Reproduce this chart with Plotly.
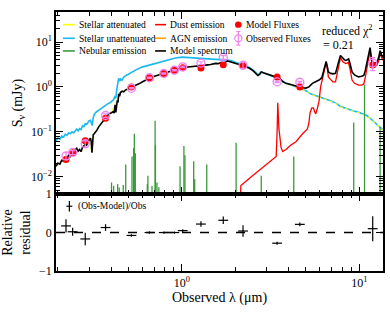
import math
import plotly.graph_objects as go

# ---------------- data ----------------
model_lam = [0.195, 0.200, 0.205, 0.210, 0.215, 0.220, 0.225, 0.230, 0.235, 0.240, 0.245, 0.250,
             0.255, 0.260, 0.265, 0.270, 0.275, 0.280, 0.285, 0.290, 0.295, 0.300, 0.305, 0.308,
             0.311, 0.313, 0.316, 0.320, 0.330, 0.340, 0.350, 0.360, 0.370, 0.380, 0.390, 0.400,
             0.410, 0.415, 0.420, 0.424, 0.428, 0.432, 0.436, 0.440, 0.445, 0.450, 0.460, 0.470,
             0.480, 0.490, 0.500, 0.520, 0.540, 0.560, 0.580, 0.600, 0.630, 0.660, 0.700, 0.740,
             0.780, 0.820, 0.860, 0.900, 0.950, 1.000, 1.050, 1.100, 1.150, 1.200, 1.250, 1.300,
             1.350, 1.400, 1.450, 1.500, 1.550, 1.600, 1.650, 1.700, 1.750, 1.800, 1.850, 1.900,
             2.000, 2.100, 2.200, 2.300, 2.400, 2.500, 2.600, 2.680, 2.740, 2.800, 2.900, 3.000,
             3.100, 3.200, 3.300, 3.400, 3.460, 3.520, 3.600, 3.700, 3.860, 4.000, 4.210, 4.400,
             4.620, 4.800, 5.000, 5.200, 5.440, 5.700, 5.930, 6.150, 6.320, 6.420, 6.500, 6.580,
             6.690, 6.900, 7.100, 7.340, 7.550, 7.700, 7.830, 7.950, 8.100, 8.250, 8.400, 8.550,
             8.700, 8.850, 9.100, 9.400, 9.900, 10.30, 10.60, 10.80, 11.00, 11.25, 11.50, 11.65,
             11.85, 12.10, 12.55, 12.85, 13.10, 13.35, 13.60]
model_flux = [0.017, 0.020, 0.019, 0.023, 0.022, 0.027, 0.026, 0.030, 0.028, 0.034, 0.031, 0.040,
              0.043, 0.037, 0.040, 0.036, 0.045, 0.048, 0.052, 0.050, 0.060, 0.066, 0.072, 0.060,
              0.034, 0.055, 0.085, 0.090, 0.105, 0.13, 0.15, 0.18, 0.21, 0.23, 0.25, 0.27,
              0.28, 0.26, 0.40, 0.27, 0.42, 0.50, 0.45, 0.70, 0.62, 0.75, 0.80, 0.78,
              0.85, 0.88, 0.92, 0.97, 1.05, 1.12, 1.20, 1.30, 1.45, 1.58, 1.72, 1.85,
              1.98, 2.10, 2.22, 2.33, 2.50, 2.66, 2.75, 2.80, 2.85, 2.90, 2.95, 2.90,
              3.05, 3.10, 3.15, 3.25, 3.35, 3.30, 3.50, 3.60, 3.50, 3.80, 3.70, 3.55,
              3.35, 3.15, 3.00, 2.80, 2.60, 2.35, 2.05, 1.80, 1.90, 2.15, 2.05, 1.95,
              1.85, 1.78, 1.72, 1.66, 1.75, 1.62, 1.45, 1.32, 1.20, 1.15, 1.10, 1.05,
              1.00, 0.96, 0.94, 1.00, 1.20, 1.30, 1.42, 1.60, 2.30, 3.00, 3.70, 3.00,
              2.15, 2.00, 1.95, 2.00, 2.80, 4.00, 5.00, 4.60, 4.20, 4.00, 3.90, 4.00,
              4.20, 3.40, 2.15, 1.85, 1.67, 1.72, 1.80, 2.30, 3.30, 5.00, 7.50, 5.00,
              3.50, 3.40, 3.50, 4.50, 6.40, 5.20, 4.50]

unatt_lam = [0.195, 0.200, 0.205, 0.210, 0.215, 0.220, 0.225, 0.230, 0.235, 0.240, 0.245, 0.250,
             0.255, 0.260, 0.265, 0.270, 0.275, 0.280, 0.285, 0.290, 0.295, 0.300, 0.305, 0.309,
             0.312, 0.316, 0.320, 0.327, 0.335, 0.345, 0.356, 0.365, 0.375, 0.385, 0.395, 0.405,
             0.412, 0.418, 0.424, 0.430, 0.436, 0.440, 0.446, 0.452, 0.460, 0.470, 0.485, 0.500,
             0.524, 0.550, 0.595, 0.650, 0.707, 0.770, 0.840, 0.920, 1.000, 1.100, 1.200, 1.300,
             1.400, 1.500, 1.600, 1.700, 1.800, 1.900, 2.000, 2.200, 2.400, 2.600, 2.680, 2.800,
             3.000, 3.200, 3.400, 3.600, 3.860, 4.210, 4.620, 5.000, 5.300, 5.800, 6.300, 6.800,
             7.340, 7.800, 8.300, 8.800, 9.300, 10.00, 10.60, 11.00, 11.50, 12.30, 13.10, 13.60]
unatt_flux = [0.062, 0.072, 0.068, 0.080, 0.076, 0.088, 0.084, 0.095, 0.090, 0.100, 0.094, 0.108,
              0.115, 0.105, 0.118, 0.112, 0.135, 0.130, 0.150, 0.145, 0.165, 0.176, 0.180, 0.150,
              0.137, 0.200, 0.240, 0.270, 0.290, 0.320, 0.340, 0.370, 0.400, 0.430, 0.450, 0.480,
              0.520, 0.600, 0.560, 0.940, 1.200, 1.550, 1.350, 1.500, 1.420, 1.650, 1.800, 1.950,
              2.150, 2.400, 2.760, 3.050, 3.300, 3.700, 4.100, 4.400, 4.600, 4.500, 4.300, 4.200,
              4.150, 4.100, 4.050, 4.000, 3.950, 3.800, 3.550, 3.100, 2.700, 2.150, 1.850, 2.150,
              1.950, 1.750, 1.600, 1.420, 1.200, 1.080, 0.950, 0.820, 0.700, 0.620, 0.570, 0.500,
              0.440, 0.370, 0.340, 0.310, 0.290, 0.270, 0.250, 0.230, 0.200, 0.160, 0.128, 0.110]

att_lam = [0.195, 0.22, 0.25, 0.27, 0.30, 0.311, 0.32, 0.35, 0.40, 0.42, 0.44, 0.50, 0.60, 0.70,
           0.80, 0.90, 1.0, 1.2, 1.4, 1.6, 1.8, 2.0, 2.2, 2.4, 2.6, 2.68, 2.8, 3.0, 3.2, 3.4,
           3.6, 3.86, 4.21, 4.62, 5.0, 5.3, 5.8, 6.3, 6.8, 7.34, 7.8, 8.3, 8.8, 9.3, 10.0, 10.6,
           11.0, 11.5, 12.3, 13.1, 13.6]
att_flux = [0.017, 0.027, 0.040, 0.036, 0.066, 0.034, 0.090, 0.15, 0.27, 0.40, 0.70, 0.92, 1.30, 1.72,
            2.05, 2.33, 2.66, 2.9, 3.1, 3.3, 3.8, 3.35, 3.0, 2.6, 2.05, 1.8, 2.15, 1.95, 1.78, 1.64,
            1.42, 1.19, 1.06, 0.93, 0.80, 0.69, 0.61, 0.56, 0.49, 0.43, 0.36, 0.335, 0.305, 0.285, 0.265, 0.245,
            0.225, 0.197, 0.158, 0.126, 0.108]

dust_lam = [2.14, 2.15, 2.5, 2.9, 3.2, 3.40, 3.44, 3.47, 3.52, 3.62, 3.70, 3.86, 4.10, 4.39, 4.79,
            5.10, 5.20, 5.28, 5.40, 5.51, 5.60, 5.68, 5.80, 5.93, 6.05, 6.20, 6.35, 6.50, 6.60,
            6.69, 6.90, 7.10, 7.34, 7.55, 7.70, 7.83, 7.95, 8.10, 8.40, 8.68, 8.85, 9.10, 9.40,
            9.90, 10.30, 10.60, 10.80, 11.00, 11.25, 11.50, 11.65, 11.85, 12.10, 12.55, 12.85,
            13.10, 13.35, 13.60]
dust_flux = [0.004, 0.0063, 0.0105, 0.017, 0.023, 0.028, 0.10, 0.44, 0.12, 0.045, 0.036, 0.040, 0.050,
             0.060, 0.090, 0.116, 0.16, 0.27, 0.34, 0.34, 0.28, 0.25, 0.33, 0.48, 1.0, 1.6, 2.5,
             3.5, 2.6, 1.67, 1.45, 1.3, 1.3, 2.2, 3.5, 4.5, 4.0, 3.6, 3.3, 3.5, 2.6, 1.42, 1.2,
             1.1, 1.1, 1.15, 1.6, 2.5, 4.2, 6.4, 4.3, 3.1, 2.9, 3.0, 3.8, 5.4, 4.6, 3.9]

neb_lam = [0.401, 0.412, 0.434, 0.443, 0.467, 0.482, 0.523, 0.534, 0.539, 0.546, 0.638, 0.643,
           0.678, 0.706, 0.709, 0.723, 0.741, 0.976, 1.026, 1.04, 1.165, 1.18, 1.38, 2.02, 2.80,
           4.27, 9.30, 10.70, 13.10]
neb_peak = [0.0074, 0.0062, 0.0068, 0.0057, 0.0065, 0.0185, 0.028, 0.043, 0.090, 0.033, 0.0068, 0.0104,
            0.0062, 0.176, 0.05, 0.0074, 0.0058, 0.017, 0.048, 0.030, 0.022, 0.0087, 0.0185, 0.057, 0.0104,
            0.028, 0.16, 1.10, 0.127]

obs_lam = [0.222, 0.242, 0.285, 0.371, 0.519, 0.656, 0.790, 0.906, 1.010, 1.280, 1.710, 2.210,
           3.440, 4.620, 11.90]
obs_flux = [0.0290, 0.0345, 0.054, 0.230, 0.93, 1.60, 1.99, 2.35, 2.80, 3.40, 4.55, 3.05,
            1.30, 1.27, 3.40]
obs_err = [0.005, 0.0035, 0.0087, 0.020, 0.03, 0.05, 0.06, 0.07, 0.10, 0.24, 0.45, 0.45,
           0.05, 0.06, 1.10]
mod_flux = [0.0240, 0.0338, 0.063, 0.200, 1.00, 1.60, 1.99, 2.35, 2.66, 2.65, 3.10, 2.93,
            1.66, 1.00, 3.06]

chi2_text = "0.21"

# ---------------- styling helpers ----------------
SERIF = "Liberation Serif, Times New Roman, serif"
W, H = 390, 312
ML, MR, MT, MB = 53, 7, 5, 41
PW, PH = W - ML - MR, H - MT - MB
SPLIT = 0.297

def px(x):
    return (x - ML) / PW

def py(y):
    return (H - MB - y) / PH

fig = go.Figure()

# stellar unattenuated
fig.add_trace(go.Scatter(x=unatt_lam, y=unatt_flux, mode="lines",
                         line=dict(color="#1ab8f0", width=1.6), showlegend=False,
                         xaxis="x", yaxis="y"))
# stellar attenuated
fig.add_trace(go.Scatter(x=att_lam, y=att_flux, mode="lines",
                         line=dict(color="#ffff00", width=1.1, dash="dot"), showlegend=False,
                         xaxis="x", yaxis="y"))
# nebular lines
nx, ny = [], []
for l, p in zip(neb_lam, neb_peak):
    nx += [l, l, None]
    ny += [1e-4, p, None]
fig.add_trace(go.Scatter(x=nx, y=ny, mode="lines", line=dict(color="#3a9a3a", width=1.3),
                         showlegend=False, xaxis="x", yaxis="y"))
# dust emission
fig.add_trace(go.Scatter(x=dust_lam, y=dust_flux, mode="lines",
                         line=dict(color="#ff0000", width=1.3), showlegend=False,
                         xaxis="x", yaxis="y"))
# model spectrum
fig.add_trace(go.Scatter(x=model_lam, y=model_flux, mode="lines",
                         line=dict(color="black", width=1.6), showlegend=False,
                         xaxis="x", yaxis="y"))
# model fluxes
fig.add_trace(go.Scatter(x=obs_lam, y=mod_flux, mode="markers",
                         marker=dict(color="#ff0000", size=7, line=dict(width=0)),
                         showlegend=False, xaxis="x", yaxis="y"))
# observed fluxes
fig.add_trace(go.Scatter(x=obs_lam, y=obs_flux, mode="markers",
                         marker=dict(symbol="circle-open", color="#ee82ee", size=8,
                                     line=dict(width=1.3, color="#ee82ee")),
                         error_y=dict(type="data", array=obs_err, color="#ee82ee",
                                      thickness=1.2, width=2.5),
                         showlegend=False, xaxis="x", yaxis="y"))

# residuals
res = [(o - m) / o for o, m in zip(obs_flux, mod_flux)]
res_err = [e / o for e, o in zip(obs_err, obs_flux)]
fig.add_trace(go.Scatter(x=[0.195, 13.6], y=[0, 0], mode="lines",
                         line=dict(color="black", width=1.5, dash="dash"),
                         showlegend=False, xaxis="x2", yaxis="y2", hoverinfo="skip"))
fig.add_trace(go.Scatter(x=obs_lam, y=res, mode="markers",
                         marker=dict(symbol="line-ew", size=7, color="black",
                                     line=dict(width=1.2, color="black")),
                         error_y=dict(type="data", array=res_err, color="black",
                                      thickness=1.2, width=0),
                         showlegend=False, xaxis="x2", yaxis="y2"))

# ---------------- axes ----------------
minor_x = [m * 10 ** d for d in (-1, 0, 1) for m in range(2, 10)]
minor_y = [m * 10 ** d for d in (-3, -2, -1, 0, 1) for m in range(2, 10)]
xrange_ = [math.log10(0.195), math.log10(13.6)]
tickfont = dict(family=SERIF, size=12, color="black")

common_x = dict(type="log", range=xrange_, tickmode="array", tickvals=[1, 10],
                ticktext=["10<sup>0</sup>", "10<sup>1</sup>"],
                ticks="inside", ticklen=7, tickwidth=1.2, tickcolor="black",
                minor=dict(tickmode="array", tickvals=minor_x, ticks="inside", ticklen=4,
                           tickwidth=1.2, tickcolor="black", showgrid=False),
                showline=True, linewidth=1.5, linecolor="black", mirror="ticks",
                showgrid=False, zeroline=False, tickfont=tickfont)

fig.update_layout(
    width=W, height=H,
    margin=dict(l=ML, r=MR, t=MT, b=MB),
    paper_bgcolor="white", plot_bgcolor="white",
    font=dict(family=SERIF, color="black"),
    xaxis=dict(domain=[0, 1], anchor="y", showticklabels=False, **common_x),
    xaxis2=dict(domain=[0, 1], anchor="y2", matches="x", showticklabels=True,
                title=dict(text="Observed λ (μm)", font=dict(family=SERIF, size=14), standoff=2),
                **common_x),
    yaxis=dict(domain=[SPLIT, 1], anchor="x", type="log", range=[-2.39, 1.67],
               tickmode="array", tickvals=[0.01, 0.1, 1, 10],
               ticktext=["10<sup>−2</sup>", "10<sup>−1</sup>", "10<sup>0</sup>", "10<sup>1</sup>"],
               ticks="inside", ticklen=7, tickwidth=1.2, tickcolor="black",
               minor=dict(tickmode="array", tickvals=minor_y, ticks="inside", ticklen=4,
                          tickwidth=1.2, tickcolor="black", showgrid=False),
               showline=True, linewidth=1.5, linecolor="black", mirror="ticks",
               showgrid=False, zeroline=False, tickfont=tickfont,
               title=dict(text="S<sub>ν</sub> (mJy)", font=dict(family=SERIF, size=14), standoff=5)),
    yaxis2=dict(domain=[0, SPLIT], anchor="x2", range=[-1, 1],
                tickmode="array", tickvals=[-1, 0, 1], ticktext=["−1", "0", "1"],
                ticks="inside", ticklen=7, tickwidth=1.2, tickcolor="black",
                showline=True, linewidth=1.5, linecolor="black", mirror="ticks",
                showgrid=False, zeroline=False, tickfont=tickfont,
                title=dict(text="Relative<br>residual", font=dict(family=SERIF, size=14), standoff=6)),
)

# ---------------- manual legend ----------------
shapes = []
annots = []
LF = dict(family=SERIF, size=9.6, color="black")

def leg_line(x0, x1, y, color, label, tx):
    shapes.append(dict(type="line", xref="paper", yref="paper", x0=px(x0), x1=px(x1),
                       y0=py(y), y1=py(y), line=dict(color=color, width=1.6)))
    annots.append(dict(xref="paper", yref="paper", x=px(tx), y=py(y), text=label,
                       showarrow=False, xanchor="left", yanchor="middle", font=LF))

rows = [18, 32, 45]
leg_line(60, 72, rows[0], "#ffff00", "Stellar attenuated", 74)
leg_line(60, 72, rows[1], "#1ab8f0", "Stellar unattenuated", 74)
leg_line(60, 72, rows[2], "#3a9a3a", "Nebular emission", 74)
leg_line(153, 164, rows[0], "#ff0000", "Dust emission", 166)
leg_line(153, 164, rows[1], "#ffa500", "AGN emission", 166)
leg_line(153, 164, rows[2], "black", "Model spectrum", 166)

# Model fluxes marker
r = 3.3
shapes.append(dict(type="circle", xref="paper", yref="paper",
                   x0=px(237 - r), x1=px(237 + r), y0=py(rows[0] + r), y1=py(rows[0] - r),
                   fillcolor="#ff0000", line=dict(width=0)))
annots.append(dict(xref="paper", yref="paper", x=px(243), y=py(rows[0]), text="Model Fluxes",
                   showarrow=False, xanchor="left", yanchor="middle", font=LF))
# Observed fluxes marker
r2 = 3.6
shapes.append(dict(type="circle", xref="paper", yref="paper",
                   x0=px(237 - r2), x1=px(237 + r2), y0=py(rows[1] + r2), y1=py(rows[1] - r2),
                   line=dict(color="#ee82ee", width=1.2)))
shapes.append(dict(type="line", xref="paper", yref="paper", x0=px(237), x1=px(237),
                   y0=py(rows[1] - 7), y1=py(rows[1] + 7), line=dict(color="#ee82ee", width=1.2)))
for yy in (rows[1] - 7, rows[1] + 7):
    shapes.append(dict(type="line", xref="paper", yref="paper", x0=px(235), x1=px(239),
                       y0=py(yy), y1=py(yy), line=dict(color="#ee82ee", width=1.2)))
annots.append(dict(xref="paper", yref="paper", x=px(243), y=py(rows[1]), text="Observed Fluxes",
                   showarrow=False, xanchor="left", yanchor="middle", font=LF))

# residual legend
shapes.append(dict(type="line", xref="paper", yref="paper", x0=px(66.5), x1=px(66.5),
                   y0=py(199), y1=py(210), line=dict(color="black", width=1.2)))
shapes.append(dict(type="line", xref="paper", yref="paper", x0=px(63.5), x1=px(69.5),
                   y0=py(204.5), y1=py(204.5), line=dict(color="black", width=1.2)))
annots.append(dict(xref="paper", yref="paper", x=px(73), y=py(204.5), text="(Obs-Model)/Obs",
                   showarrow=False, xanchor="left", yanchor="middle", font=LF))

# reduced chi2
annots.append(dict(xref="paper", yref="paper", x=px(319), y=py(24), text="reduced χ<sup>2</sup>",
                   showarrow=False, xanchor="left", yanchor="middle",
                   font=dict(family=SERIF, size=12, color="black")))
annots.append(dict(xref="paper", yref="paper", x=px(320), y=py(39), text="= " + chi2_text,
                   showarrow=False, xanchor="left", yanchor="middle",
                   font=dict(family=SERIF, size=12, color="black")))

fig.update_layout(shapes=shapes, annotations=annots)

fig.write_html("out.html", config={"displayModeBar": False},
               post_script="document.body.style.margin='0';document.body.style.padding='0';")
